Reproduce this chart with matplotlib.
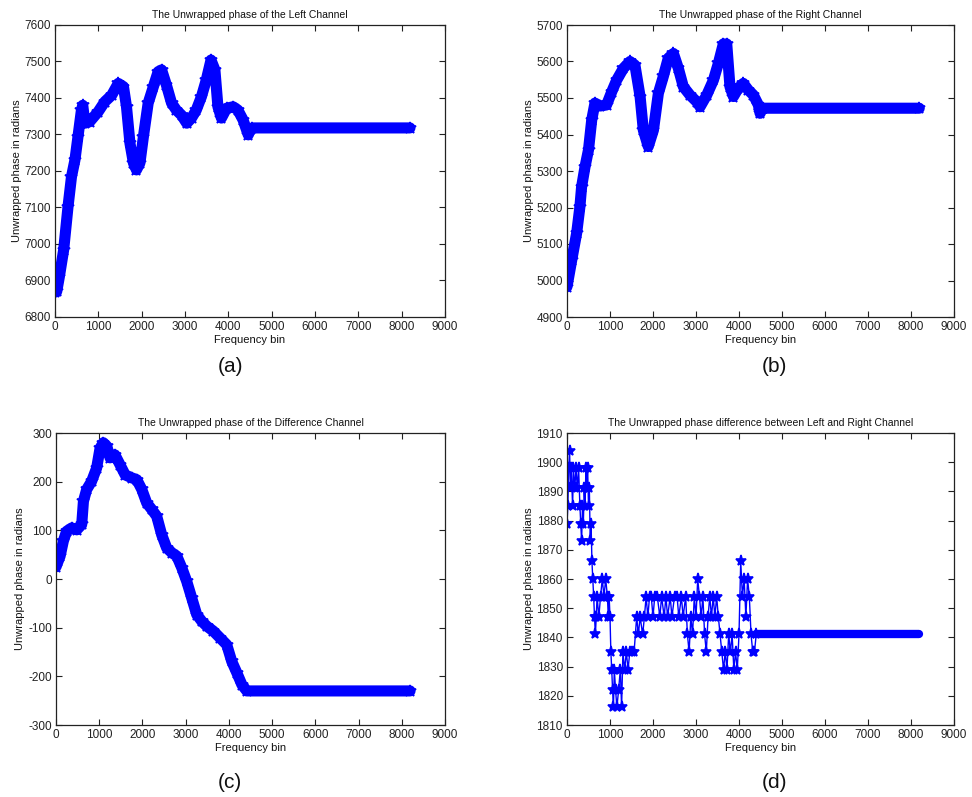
import matplotlib
matplotlib.use("Agg")
import matplotlib.pyplot as plt

plt.rcParams['font.family'] = ['Liberation Sans', 'DejaVu Sans']

# ---------------- data ----------------
left_bins = [0, 40, 100, 200, 300, 380, 460, 530, 610, 640, 690, 800, 1000, 1150, 1310,
             1460, 1580, 1650, 1730, 1810, 1880, 1960, 2040, 2150, 2270, 2380, 2460, 2570,
             2690, 2800, 2920, 3040, 3150, 3260, 3380, 3490, 3600, 3690, 3760, 3840, 3960,
             4110, 4220, 4340, 4460, 4500, 4550, 8192]
left_phase = [6868, 6870, 6910, 6984, 7102, 7184, 7230, 7294, 7367, 7380, 7331, 7335, 7363,
              7390, 7408, 7440, 7431, 7376, 7276, 7222, 7203, 7222, 7294, 7386, 7431, 7472,
              7477, 7436, 7386, 7367, 7353, 7331, 7345, 7367, 7404, 7449, 7504, 7477, 7376,
              7345, 7372, 7376, 7367, 7340, 7299, 7312, 7318, 7318]

right_bins = [0, 110, 225, 300, 340, 420, 500, 575, 650, 770, 920, 1040, 1155, 1310, 1465,
              1580, 1700, 1775, 1890, 2010, 2125, 2240, 2355, 2475, 2590, 2705, 2860, 3015,
              3095, 3250, 3405, 3520, 3635, 3715, 3790, 3870, 3985, 4100, 4215, 4335, 4450,
              4490, 4550, 8192]
right_phase = [4983, 5056, 5130, 5202, 5257, 5312, 5358, 5440, 5486, 5478, 5481, 5517, 5549,
               5581, 5600, 5590, 5504, 5412, 5367, 5412, 5513, 5559, 5609, 5622, 5581, 5531,
               5508, 5490, 5476, 5508, 5549, 5595, 5648, 5648, 5531, 5504, 5527, 5540, 5522,
               5508, 5481, 5458, 5472, 5472]

diff_bins = [0, 95, 170, 245, 365, 480, 595, 635, 710, 825, 940, 1020, 1095, 1175, 1250,
             1365, 1480, 1600, 1750, 1870, 1985, 2100, 2215, 2330, 2445, 2560, 2680, 2795,
             2910, 3025, 3140, 3255, 3375, 3490, 3640, 3795, 3950, 4065, 4185, 4300, 4415,
             8192]
diff_phase = [25, 47, 78, 98, 105, 101, 112, 160, 184, 201, 228, 269, 280, 273, 249, 255,
              235, 214, 208, 204, 184, 156, 143, 129, 91, 64, 54, 47, 23, -5, -39, -73, -87,
              -97, -107, -121, -135, -169, -193, -217, -230, -230]

lr_bins = [0, 20, 40, 60, 80, 100, 130, 150, 180, 210, 240, 270, 300, 320, 340, 360, 380,
           400, 420, 440, 460, 480, 500, 520, 540, 560, 580, 600, 620, 640, 660, 680, 700,
           740, 780, 820, 860, 900, 940, 960, 980, 1000, 1020, 1040, 1060, 1080, 1100, 1130,
           1160, 1200, 1240, 1270, 1300, 1340, 1380, 1420, 1460, 1500, 1560, 1620, 1660,
           1700, 1760, 1800, 1840, 1880, 1920, 1960, 2000, 2040, 2100, 2160, 2200, 2260,
           2300, 2340, 2400, 2440, 2500, 2560, 2600, 2660, 2700, 2760, 2800, 2840, 2880,
           2920, 2960, 3000, 3040, 3080, 3120, 3160, 3200, 3240, 3280, 3320, 3360, 3400,
           3440, 3480, 3520, 3560, 3600, 3640, 3680, 3720, 3760, 3800, 3840, 3880, 3920,
           3960, 4000, 4040, 4080, 4120, 4160, 4200, 4240, 4280, 4320, 4360, 4400]
lr_phase = [1879, 1885, 1898, 1904, 1891, 1898, 1885, 1898, 1891, 1898, 1891, 1898, 1885,
            1879, 1873, 1885, 1879, 1891, 1885, 1898, 1891, 1898, 1885, 1891, 1873, 1879,
            1866, 1860, 1854, 1847, 1841, 1847, 1854, 1847, 1854, 1860, 1854, 1860, 1854,
            1847, 1854, 1847, 1835, 1829, 1822, 1816, 1829, 1822, 1816, 1822, 1829, 1816,
            1835, 1829, 1835, 1829, 1835, 1835, 1835, 1847, 1841, 1847, 1841, 1847, 1854,
            1847, 1854, 1854, 1847, 1854, 1854, 1847, 1854, 1847, 1854, 1847, 1854, 1847,
            1854, 1854, 1847, 1854, 1847, 1854, 1841, 1835, 1847, 1841, 1854, 1847, 1860,
            1854, 1847, 1854, 1841, 1835, 1847, 1854, 1847, 1854, 1847, 1854, 1847, 1841,
            1835, 1829, 1835, 1829, 1841, 1835, 1841, 1829, 1835, 1829, 1841, 1866, 1854,
            1860, 1847, 1860, 1854, 1841, 1835, 1835, 1841]
lr_flat_bins = [4400, 8192]
lr_flat_phase = [1841, 1841]

titles = ["The Unwrapped phase of the Left Channel",
          "The Unwrapped phase of the Right Channel",
          "The Unwrapped phase of the Difference Channel",
          "The Unwrapped phase difference between Left and Right Channel"]
panel_labels = ["(a)", "(b)", "(c)", "(d)"]
xticks = [0, 1000, 2000, 3000, 4000, 5000, 6000, 7000, 8000, 9000]
yticks_a = [6800, 6900, 7000, 7100, 7200, 7300, 7400, 7500, 7600]
yticks_b = [4900, 5000, 5100, 5200, 5300, 5400, 5500, 5600, 5700]
yticks_c = [-300, -200, -100, 0, 100, 200, 300]
yticks_d = [1810, 1820, 1830, 1840, 1850, 1860, 1870, 1880, 1890, 1900, 1910]

# ---------------- figure ----------------
W, H = 972, 797
fig = plt.figure(figsize=(W / 100, H / 100), dpi=100)

def ax_at(l, t, r, b):
    return fig.add_axes([l / W, 1 - b / H, (r - l) / W, (b - t) / H])

axes = [ax_at(55, 25, 445, 317), ax_at(567, 25, 954, 317),
        ax_at(56, 433, 445, 725), ax_at(567, 433, 954, 725)]
label_pos = [(230, 367), (774, 367), (230, 783), (774, 783)]
yticks_all = [yticks_a, yticks_b, yticks_c, yticks_d]

blue = (0, 0, 1)

# thick noisy-looking bands for a, b, c
for ax, xs, ys in zip(axes[:3], [left_bins, right_bins, diff_bins],
                      [left_phase, right_phase, diff_phase]):
    ax.plot(xs, ys, color=blue, lw=8, solid_capstyle='round', solid_joinstyle='round')
    ax.plot(xs, ys, color=blue, lw=0, marker='*', ms=9, mew=1.2)

# panel d: thin line with star markers
axes[3].plot(lr_bins, lr_phase, color=blue, lw=1.0, marker='*', ms=8, mew=1.2)
axes[3].plot(lr_flat_bins, lr_flat_phase, color=blue, lw=6, solid_capstyle='round')

for ax, ttl, yt, lab, pos in zip(axes, titles, yticks_all, panel_labels, label_pos):
    ax.set_xlim(0, 9000)
    ax.set_ylim(yt[0], yt[-1])
    ax.set_xticks(xticks)
    ax.set_yticks(yt)
    ax.set_xticklabels([str(v) for v in xticks])
    ax.set_yticklabels([str(v) for v in yt])
    ax.tick_params(direction='in', top=True, right=True, length=4, width=0.8,
                   labelsize=8.5, colors='#222222', pad=3)
    ax.set_title(ttl, fontsize=7.5, pad=5, color='#111111')
    ax.set_xlabel("Frequency bin", fontsize=8, labelpad=1, color='#111111')
    ax.set_ylabel("Unwrapped phase in radians", fontsize=8, labelpad=2, color='#111111')
    for s in ax.spines.values():
        s.set_linewidth(0.9)
        s.set_color('#222222')
    fig.text(pos[0] / W, 1 - pos[1] / H, lab, fontsize=15, ha='center', va='center',
             color='#111111')

fig.savefig("out.png", dpi=100)
